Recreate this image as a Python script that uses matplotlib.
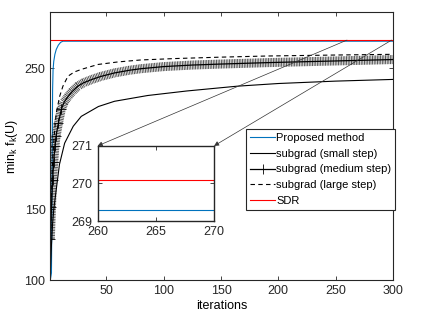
import numpy as np
import matplotlib
matplotlib.use("Agg")
import matplotlib.pyplot as plt
from matplotlib.patches import ConnectionPatch

plt.rcParams['font.family'] = ['Liberation Sans', 'DejaVu Sans']
plt.rcParams['font.size'] = 9

# values (iteration, min_k f_k(U))
prop_x = [1, 2, 3, 3.4, 4, 5, 6.2, 8, 10, 12, 300]
prop_y = [100, 105, 235, 249, 255, 260, 263.5, 266.5, 268.5, 269.3, 269.3]

small_x = [1, 2, 3, 4, 6, 9, 13.5, 21, 28, 43, 57, 86, 120, 164, 200, 250, 300]
small_y = [105, 125, 140, 150, 163, 182, 197, 209, 216, 223, 226.7, 230.8, 234, 237.4, 239.3, 241, 242.2]

med_x = [1, 2, 3, 4, 5, 6, 8, 10.6, 13, 16.4, 20, 25, 30, 37, 45, 57, 70, 80, 100, 125, 150, 190, 250, 300]
med_y = [129, 152, 171, 184, 195, 202, 211, 221, 226, 230, 233.5, 237.4, 239.8, 242.1, 244.3, 246.8, 248.7, 249.8, 251.3, 252.4, 253.1, 254.1, 255.3, 256.3]

large_x = [1, 2, 3, 4.8, 6.2, 9.2, 12, 16.4, 22, 28, 42.6, 60, 80, 110, 150, 190, 250, 300]
large_y = [120, 160, 185, 206.6, 218.5, 230.3, 237.4, 244.5, 247.5, 249.3, 252.8, 254.6, 256, 257, 258, 258.8, 259.5, 260]

sdr_x = [1, 300]
sdr_y = [270.1, 270.1]

labels = ['Proposed method', 'subgrad (small step)', 'subgrad (medium step)',
          'subgrad (large step)', 'SDR']

blue = '#0072BD'
edge = '#262626'

fig = plt.figure(figsize=(4.36, 3.27), dpi=100)
ax = fig.add_axes([0.1154, 0.1437, 0.7856, 0.8196])

ax.plot(prop_x, prop_y, color=blue, lw=0.8, label=labels[0])
ax.plot(small_x, small_y, color='k', lw=0.8, label=labels[1])
# dense '+' markers of the medium step curve show up as a striped band
ax.plot(med_x, med_y, color='k', lw=6.5, alpha=0.7, ls=(0, (0.1, 0.08)),
        solid_capstyle='butt', dash_capstyle='butt')
ax.plot(med_x, med_y, color='k', lw=0.9, marker='+', ms=7, mew=0.6,
        markevery=list(range(8)), label=labels[2])
ax.plot(large_x, large_y, color='k', lw=0.8, ls=(0, (4, 3)), label=labels[3])
ax.plot(sdr_x, sdr_y, color='#FF0000', lw=0.8, label=labels[4])

ax.set_xlim(1, 300)
ax.set_ylim(100, 290)
ax.set_xticks([50, 100, 150, 200, 250, 300])
ax.set_yticks([100, 150, 200, 250])
ax.set_xlabel('iterations', labelpad=2)
ax.set_ylabel(r'min$_\mathregular{k}$ f$_\mathregular{k}$(U)', labelpad=3)
ax.tick_params(direction='in', top=True, right=True, length=3, width=0.6,
               colors=edge, labelcolor=edge)
for s in ax.spines.values():
    s.set_color(edge)
    s.set_linewidth(0.8)

leg = ax.legend(loc='upper left', bbox_to_anchor=(0.564, 0.6055),
                bbox_transform=fig.transFigure, fancybox=False, frameon=True,
                edgecolor=edge, framealpha=1, handlelength=2.3, handletextpad=0.1,
                borderpad=0.35, labelspacing=0.52, borderaxespad=0, fontsize=8)
leg.get_frame().set_linewidth(0.8)

# zoomed inset
ins = fig.add_axes([0.224, 0.324, 0.267, 0.230])
ins.plot(prop_x, prop_y, color=blue, lw=0.8)
ins.plot(sdr_x, sdr_y, color='#FF0000', lw=0.8)
ins.set_xlim(260, 270)
ins.set_ylim(269, 271)
ins.set_xticks([260, 265, 270])
ins.set_yticks([269, 270, 271])
ins.tick_params(direction='in', top=True, right=True, length=3, width=0.6,
                colors=edge, labelcolor=edge, labelsize=9)
for s in ins.spines.values():
    s.set_color(edge)
    s.set_linewidth(1.0)

for (x0, x1) in [(260, 260), (299, 270)]:
    con = ConnectionPatch(xyA=(x0, sdr_y[0]), coordsA=ax.transData,
                          xyB=(x1, 271), coordsB=ins.transData,
                          arrowstyle='-|>', mutation_scale=7, lw=0.5, color='#333333')
    fig.add_artist(con)

fig.savefig('out.png', dpi=100)
